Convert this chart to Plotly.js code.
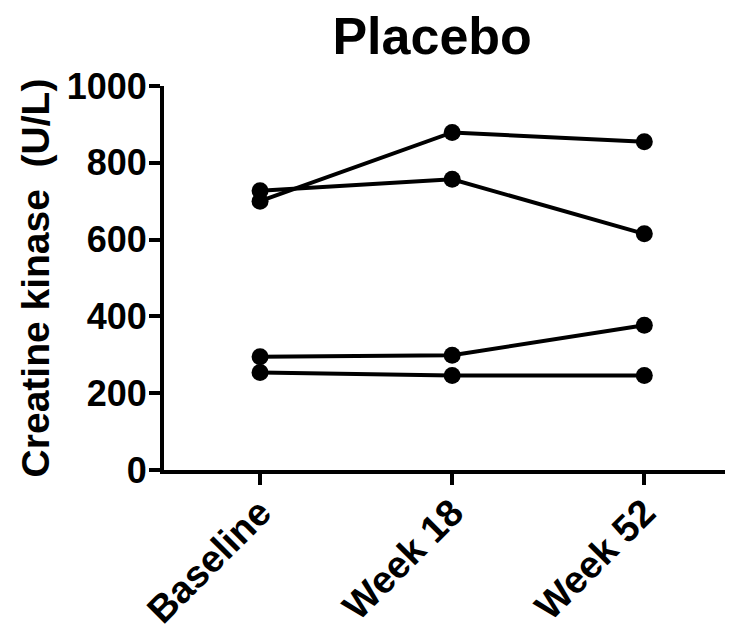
<!DOCTYPE html>
<html>
<head>
<meta charset="utf-8">
<script src="https://cdn.plot.ly/plotly-3.0.1.min.js"></script>
<style>html,body{margin:0;padding:0;background:#fff;}#chart{width:738px;height:640px;}</style>
</head>
<body>
<div id="chart"></div>
<script>
const categories = ["Baseline", "Week 18", "Week 52"];
const subject1 = [700, 879, 855];
const subject2 = [727, 757, 615];
const subject3 = [295, 299, 377];
const subject4 = [254, 246, 246];
const yTickVals = [0, 200, 400, 600, 800, 1000];
const yTickText = ["0", "200", "400", "600", "800", "1000"];

const series = [subject1, subject2, subject3, subject4];
const traces = series.map(function (vals) {
  return {
    x: categories,
    y: vals,
    type: "scatter",
    mode: "lines+markers",
    line: {color: "#000", width: 4},
    marker: {color: "#000", size: 17},
    showlegend: false,
    hoverinfo: "skip"
  };
});

const font = "Liberation Sans, Arial, sans-serif";
const layout = {
  width: 738,
  height: 640,
  margin: {l: 164, r: 13, t: 86, b: 170},
  paper_bgcolor: "#fff",
  plot_bgcolor: "#fff",
  font: {family: font, color: "#000"},
  title: {
    text: "<b>Placebo</b>",
    font: {family: font, size: 52, color: "#000"},
    x: 0.478, xref: "paper", xanchor: "center",
    y: 0.944, yref: "container", yanchor: "middle"
  },
  xaxis: {
    type: "category",
    range: [-0.5, 2.42],
    showgrid: false,
    zeroline: false,
    showline: true,
    linecolor: "#000",
    linewidth: 4,
    ticks: "outside",
    ticklen: 11,
    tickwidth: 4,
    tickcolor: "#000",
    tickangle: -45,
    ticklabelstandoff: -10,
    tickfont: {family: font, size: 38, color: "#000", weight: "bold"}
  },
  yaxis: {
    range: [0, 1000],
    tickvals: yTickVals,
    ticktext: yTickText,
    showgrid: false,
    zeroline: false,
    showline: true,
    linecolor: "#000",
    linewidth: 4,
    ticks: "outside",
    ticklen: 11,
    tickwidth: 4,
    tickcolor: "#000",
    ticklabelstandoff: -5,
    tickfont: {family: font, size: 36, color: "#000", weight: "bold"},
    title: {
      text: "<b>Creatine kinase  (U/L)</b>",
      font: {family: font, size: 39, color: "#000"},
      standoff: 6
    }
  }
};

Plotly.newPlot("chart", traces, layout, {staticPlot: true, displayModeBar: false});
</script>
</body>
</html>
